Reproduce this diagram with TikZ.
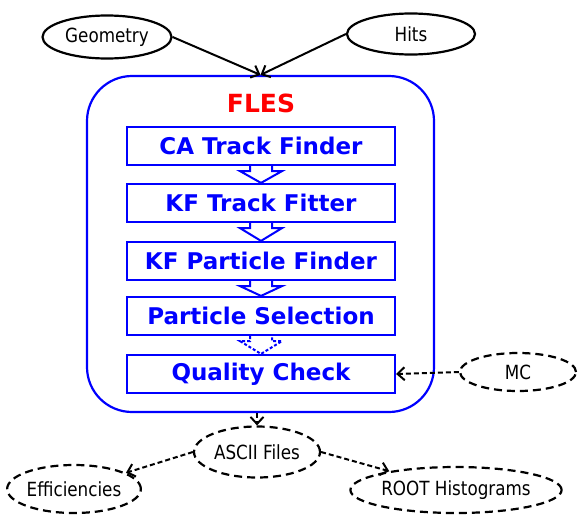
\documentclass[tikz,border=0pt]{standalone}
\usepackage{fontspec}
\setmainfont{DejaVu Sans}
\newfontfamily\lblfont[FakeStretch=0.86]{DejaVu Sans}
\usetikzlibrary{shapes.geometric,arrows.meta,calc}

\begin{document}
\begin{tikzpicture}[x=1pt,y=-1pt,
  src/.style={ellipse,draw,line width=2.2pt,inner sep=0pt,font=\lblfont\fontsize{19.5}{20}\selectfont},
  product/.style={src,dash pattern=on 8pt off 5pt},
  stage/.style={draw=blue,line width=2.2pt,text=blue,minimum width=268pt,minimum height=38pt,inner sep=0pt,font=\bfseries\fontsize{23}{24}\selectfont},
  feed/.style={line width=2pt,-{Straight Barb[length=7pt,width=13pt]}},
  flow/.style={draw=blue,line width=2pt,line join=miter}]
  \useasboundingbox (0,0) rectangle (583,514);
%entradas
  \node[src,minimum width=129pt,minimum height=43pt] (geom) at (107,37) {Geometry};
  \node[src,minimum width=128pt,minimum height=41pt] (hits) at (411,34) {Hits};
  \node[product,minimum width=116pt,minimum height=38pt] (mc) at (518,372) {MC};
%caixa FLES
  \node[draw=blue,line width=2.2pt,rounded corners=45pt,minimum width=347pt,minimum height=336pt] (fles) at (260.5,244) {};
  \node[text=red,font=\bfseries\fontsize{25}{26}\selectfont] (title) at (261,103) {FLES};
  \node[stage] (ca) at (261,146) {CA Track Finder};
  \node[stage] (kft) at (261,203) {KF Track Fitter};
  \node[stage] (kfp) at (261,261) {KF Particle Finder};
  \node[stage] (sel) at (261,316) {Particle Selection};
  \node[stage] (qc) at (261,374) {Quality Check};
%setas ocas
  \foreach \a/\b in {ca/kft,kft/kfp,kfp/sel}
    \draw[flow] ($(\a.south)+(-11,0)$) -- ++(0,5) -- ++(-10,0) -- (\b.north)
      -- ($(\a.south)+(21,5)$) -- ++(-10,0) -- ++(0,-5);
  \draw[flow,dash pattern=on 3pt off 2pt] ($(sel.south)+(-11,0)$) -- ++(0,5) -- ++(-10,0) -- (qc.north)
      -- ($(sel.south)+(21,5)$) -- ++(-10,0) -- ++(0,-5);
%saidas
  \node[product,minimum width=126pt,minimum height=51pt] (ascii) at (257,452) {ASCII Files};
  \node[product,minimum width=130pt,minimum height=48pt] (eff) at (74,489) {Efficiencies};
  \node[product,minimum width=176pt,minimum height=46pt] (root) at (456,490) {ROOT Histograms};
%setas
  \draw[feed] (geom.east) -- (fles.north);
  \draw[feed] (hits.west) -- (fles.north);
  \draw[feed,dash pattern=on 5pt off 3pt] (mc.west) -- (qc.east);
  \draw[feed,dash pattern=on 5pt off 3pt] (fles.south -| ascii.north) -- (ascii.north);
  \draw[feed,dash pattern=on 5pt off 3pt] (ascii.west) -- (eff);
  \draw[feed,dash pattern=on 5pt off 3pt] (ascii.east) -- (root);
\end{tikzpicture}
\end{document}
